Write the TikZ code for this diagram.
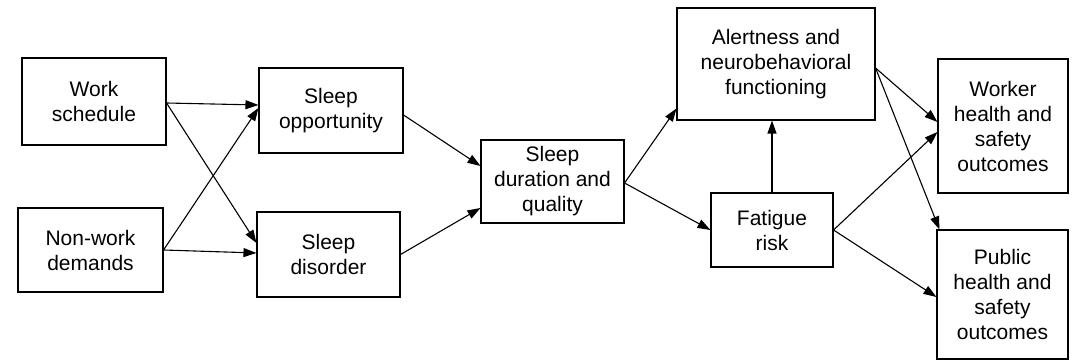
\documentclass[tikz,border=0pt]{standalone}
\usepackage{fontspec}
\setmainfont{Liberation Sans}
\usetikzlibrary{calc,arrows.meta}
\begin{document}
\begin{tikzpicture}[x=1pt,y=-1pt,
  box/.style={draw,line width=1.1pt,align=center,inner sep=0pt,
    font=\fontsize{21}{25}\selectfont},
  arr/.style={line width=1.1pt,-{Triangle[length=13pt,width=9pt]}}]
\useasboundingbox (0,0) rectangle (1072,363);
\node[box,minimum width=144pt,minimum height=87pt] (ws) at (94,101.5) {Work\\schedule};
\node[box,minimum width=145pt,minimum height=84pt] (nw) at (90.5,250) {Non-work\\demands};
\node[box,minimum width=144pt,minimum height=85pt] (so) at (331,110.5) {Sleep\\opportunity};
\node[box,minimum width=143pt,minimum height=85pt] (sd) at (328.5,254.5) {Sleep\\disorder};
\node[box,minimum width=143pt,minimum height=83pt] (dq) at (552.5,181.5) {Sleep\\duration and\\quality};
\node[box,minimum width=198pt,minimum height=112pt] (al) at (776,64) {Alertness and\\neurobehavioral\\functioning};
\node[box,minimum width=122pt,minimum height=74pt] (fr) at (772,230) {Fatigue\\risk};
\node[box,minimum width=130pt,minimum height=134pt] (wk) at (1003,126) {Worker\\health and\\safety\\outcomes};
\node[box,minimum width=131pt,minimum height=129pt] (pb) at (1002.5,294.5) {Public\\health and\\safety\\outcomes};
\draw[arr] ($(ws.east)+(0,1.5)$) -- ($(so.west)+(0,-5.5)$);
\draw[arr] ($(ws.east)+(0,1.5)$) -- ($(sd.west)+(0,-11.5)$);
\draw[arr] (nw.east) -- ($(so.west)+(0,-2.5)$);
\draw[arr] (nw.east) -- ($(sd.west)+(0,-1.5)$);
\draw[arr] ($(so.east)+(0,4.5)$) -- ($(dq.west)+(0,-15.5)$);
\draw[arr] (sd.east) -- ($(dq.west)+(0,26.5)$);
\draw[arr] ($(dq.east)+(0,1.5)$) -- ($(al.south west)+(0,-12)$);
\draw[arr] ($(dq.east)+(0,1.5)$) -- (fr.west);
\draw[arr] (fr.north) -- (fr.north |- al.south);
\draw[arr] ($(al.east)+(0,4)$) -- ($(wk.west)+(0,-4)$);
\draw[arr] ($(al.east)+(0,4)$) -- ($(pb.north west)+(3,0)$);
\draw[arr] (fr.east) -- ($(wk.west)+(0,6)$);
\draw[arr] (fr.east) -- ($(pb.west)+(0,2.5)$);
\end{tikzpicture}
\end{document}
